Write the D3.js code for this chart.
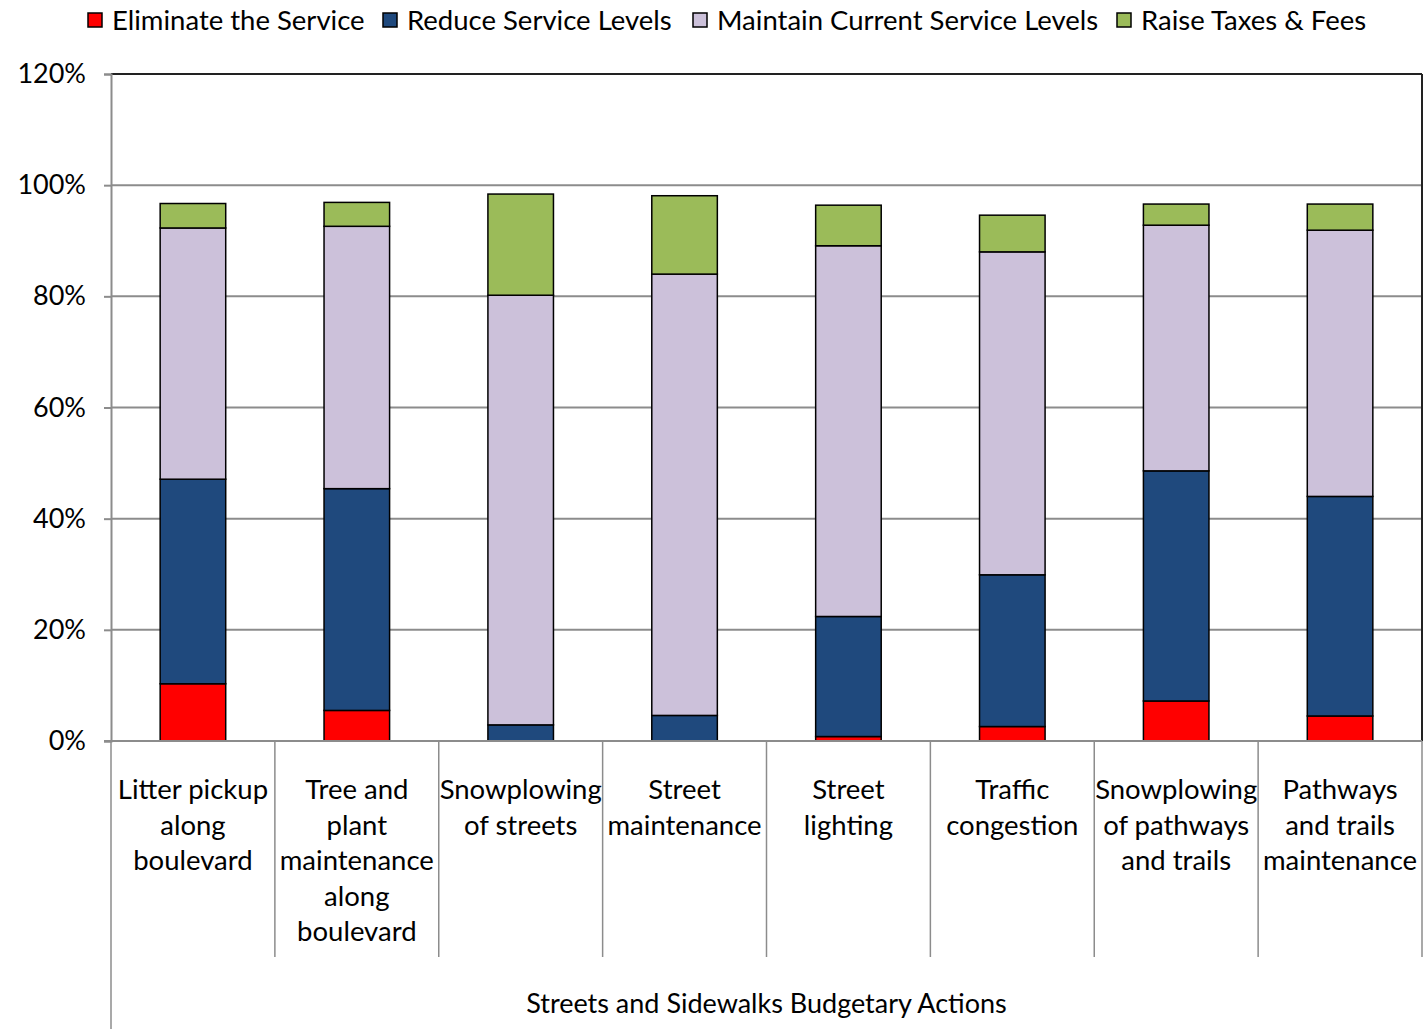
<!DOCTYPE html>
<html>
<head>
<meta charset="utf-8">
<script src="https://cdn.jsdelivr.net/npm/d3@7"></script>
<style>
  body { margin: 0; background: #fff; }
  text { font-family: Lato, "Open Sans", sans-serif; fill: #000; }
</style>
</head>
<body>
<div id="chart"></div>
<script>
// categories (one label line per array entry)
var categories = [
    ["Litter pickup", "along", "boulevard"],
    ["Tree and", "plant", "maintenance", "along", "boulevard"],
    ["Snowplowing", "of streets"],
    ["Street", "maintenance"],
    ["Street", "lighting"],
    ["Traffic", "congestion"],
    ["Snowplowing", "of pathways", "and trails"],
    ["Pathways", "and trails", "maintenance"]
];
var seriesNames = ["Eliminate the Service", "Reduce Service Levels", "Maintain Current Service Levels", "Raise Taxes & Fees"];
var seriesColors = ["#FF0000", "#1F497D", "#CCC1DA", "#9BBB59"];

// values in percent
var eliminate = [10.3, 5.5, 0, 0, 0.8, 2.6, 7.2, 4.5];
var reduce    = [36.8, 39.9, 2.9, 4.6, 21.6, 27.3, 41.4, 39.5];
var maintain  = [45.2, 47.2, 77.3, 79.4, 66.7, 58.1, 44.2, 47.9];
var raise     = [4.4, 4.3, 18.2, 14.1, 7.3, 6.6, 3.8, 4.7];

var yTicks = [0, 20, 40, 60, 80, 100, 120];
var groupLabel = "Streets and Sidewalks Budgetary Actions";

var W = 1427, H = 1029;
var margin = { top: 74, right: 5, bottom: 288, left: 111 };
var width = W - margin.left - margin.right;
var height = H - margin.top - margin.bottom;

var svg = d3.select("#chart")
    .append("svg")
    .attr("width", W)
    .attr("height", H);

var g = svg.append("g")
    .attr("transform", "translate(" + margin.left + "," + margin.top + ")");

var x = d3.scaleBand()
    .domain(d3.range(categories.length))
    .range([0, width])
    .paddingInner(0.6)
    .paddingOuter(0.3);

var xCat = d3.scaleBand()
    .domain(d3.range(categories.length))
    .range([0, width]);

var y = d3.scaleLinear()
    .domain([0, 120])
    .range([height, 0]);

// gridlines
g.selectAll(".grid")
    .data(yTicks.slice(1, -1))
    .enter().append("line")
    .attr("x1", 0).attr("x2", width)
    .attr("y1", function(d) { return y(d); })
    .attr("y2", function(d) { return y(d); })
    .attr("stroke", "#8c8c8c")
    .attr("stroke-width", 2);

// stack the data
var table = categories.map(function(c, i) {
    return { i: i, e: eliminate[i], r: reduce[i], m: maintain[i], t: raise[i] };
});
var stack = d3.stack().keys(["e", "r", "m", "t"]);
var layers = stack(table);

var layer = g.selectAll(".layer")
    .data(layers)
    .enter().append("g")
    .attr("fill", function(d, i) { return seriesColors[i]; });

layer.selectAll("rect")
    .data(function(d) { return d; })
    .enter().append("rect")
    .filter(function(d) { return d[1] - d[0] > 0; })
    .attr("x", function(d) { return x(d.data.i); })
    .attr("width", x.bandwidth())
    .attr("y", function(d) { return y(d[1]); })
    .attr("height", function(d) { return y(d[0]) - y(d[1]); })
    .attr("stroke", "#000")
    .attr("stroke-width", 1.5);

// top and right border of the plot
g.append("line")
    .attr("x1", 0).attr("x2", width)
    .attr("y1", 0).attr("y2", 0)
    .attr("stroke", "#222").attr("stroke-width", 2);
g.append("line")
    .attr("x1", width).attr("x2", width)
    .attr("y1", 0).attr("y2", height)
    .attr("stroke", "#222").attr("stroke-width", 2);

// y axis
var yAxis = g.append("g")
    .call(d3.axisLeft(y).tickValues(yTicks).tickSize(7).tickPadding(18)
        .tickFormat(function(d) { return d + "%"; }));
yAxis.select(".domain").attr("stroke", "#8c8c8c").attr("stroke-width", 2);
yAxis.selectAll(".tick line").attr("stroke", "#8c8c8c").attr("stroke-width", 2);
yAxis.selectAll("text")
    .style("font-size", "27px")
    .attr("fill", "#000");

// x axis baseline
g.append("line")
    .attr("x1", -7).attr("x2", width)
    .attr("y1", height).attr("y2", height)
    .attr("stroke", "#8c8c8c").attr("stroke-width", 2);

// category dividers below the axis
g.selectAll(".divider")
    .data(d3.range(categories.length + 1))
    .enter().append("line")
    .attr("x1", function(d) { return d * xCat.step(); })
    .attr("x2", function(d) { return d * xCat.step(); })
    .attr("y1", height)
    .attr("y2", function(d) { return d === 0 ? H - margin.top : height + 216; })
    .attr("stroke", "#8c8c8c")
    .attr("stroke-width", 1.5);

// category labels
var labels = g.selectAll(".catlabel")
    .data(categories)
    .enter().append("text")
    .attr("text-anchor", "middle")
    .style("font-size", "27.5px");

labels.selectAll("tspan")
    .data(function(d, i) { return d.map(function(s) { return { s: s, i: i }; }); })
    .enter().append("tspan")
    .attr("x", function(d) { return xCat(d.i) + xCat.bandwidth() / 2; })
    .attr("y", function(d, j) { return height + 58 + j * 35.5; })
    .text(function(d) { return d.s; });

// group label
g.append("text")
    .attr("x", width / 2)
    .attr("y", height + 272)
    .attr("text-anchor", "middle")
    .style("font-size", "27px")
    .text(groupLabel);

// legend
var legendX = [88, 383, 693, 1117];
var legend = svg.selectAll(".legend")
    .data(seriesNames)
    .enter().append("g")
    .attr("transform", function(d, i) { return "translate(" + legendX[i] + ",13)"; });

legend.append("rect")
    .attr("width", 14)
    .attr("height", 14)
    .attr("fill", function(d, i) { return seriesColors[i]; })
    .attr("stroke", "#000")
    .attr("stroke-width", 1.5);

legend.append("text")
    .attr("x", 24)
    .attr("y", 17)
    .style("font-size", "27.5px")
    .text(function(d) { return d; });
</script>
</body>
</html>
